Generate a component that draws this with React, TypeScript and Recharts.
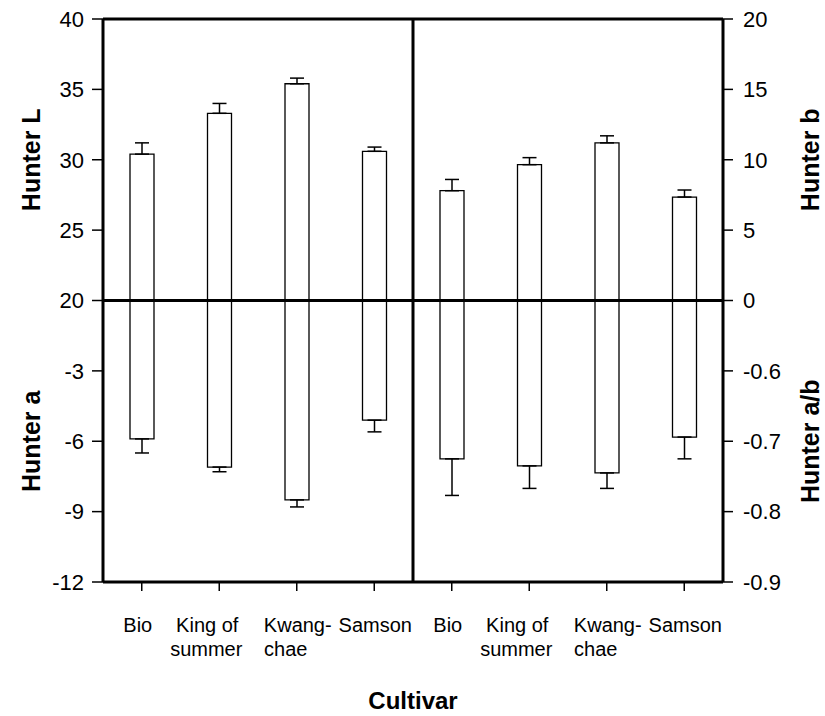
import React from 'react';
import { ComposedChart, Bar, XAxis, YAxis, ErrorBar, ReferenceLine, Label } from 'recharts';

const cultivars = ['Bio', 'King of summer', 'Kwang-chae', 'Samson'];
const cultivarLines = [['Bio'], ['King of', 'summer'], ['Kwang-', 'chae'], ['Samson']];

const hunterL = [30.4, 33.3, 35.4, 30.6];
const hunterLErr = [0.8, 0.7, 0.4, 0.3];
const hunterA = [-5.9, -7.1, -8.5, -5.1];
const hunterAErr = [0.6, 0.2, 0.3, 0.5];
const hunterB = [7.8, 9.65, 11.2, 7.35];
const hunterBErr = [0.8, 0.5, 0.5, 0.5];
const hunterAB = [-0.725, -0.735, -0.745, -0.694];
const hunterABErr = [0.052, 0.032, 0.022, 0.031];

const leftTicks = [0, 5, 10, 15, 20, 25, 30, 35, 40];
const leftTickLabels = ['-12', '-9', '-6', '-3', '20', '25', '30', '35', '40'];
const rightTicks = [-20, -15, -10, -5, 0, 5, 10, 15, 20];
const rightTickLabels = ['-0.9', '-0.8', '-0.7', '-0.6', '0', '5', '10', '15', '20'];

const rows = [
  ...cultivars.map((c, i) => ({
    cat: c, pos: i,
    L: [20, hunterL[i]], LErr: [0, hunterLErr[i]],
    a: [0, hunterA[i]], aErr: [hunterAErr[i], 0],
    b: null, bErr: null, ab: null, abErr: null,
  })),
  ...cultivars.map((c, i) => ({
    cat: c, pos: i + 4,
    L: null, LErr: null, a: null, aErr: null,
    b: [0, hunterB[i]], bErr: [0, hunterBErr[i]],
    ab: [-0.5, hunterAB[i]], abErr: [hunterABErr[i], 0],
  })),
];

const FONT = 'Arial, "Liberation Sans", Helvetica, sans-serif';
// small horizontal nudges of the category label lines, as in the original figure
const lineNudge = [[-4], [-12, -13], [1, -11], [1]];

const CatTick = (props: any) => {
  const { x, y, index } = props;
  const k = index % 4;
  const lines = cultivarLines[k];
  return (
    <g>
      {lines.map((ln, j) => (
        <text key={j} x={x + lineNudge[k][j]} y={y + 39 + j * 24} textAnchor="middle"
          fontSize={20} fontFamily={FONT} fill="#000">{ln}</text>
      ))}
    </g>
  );
};

const leftTitles = (props: any) => {
  const vb = props.viewBox;
  const cx = vb.x - 12;
  const y1 = vb.y + vb.height / 4;
  const y2 = vb.y + (vb.height * 3) / 4;
  return (
    <g>
      <text x={cx} y={y1} transform={`rotate(-90 ${cx} ${y1})`} textAnchor="middle" dominantBaseline="central"
        fontSize={25} fontWeight="bold" fontFamily={FONT} fill="#000">Hunter L</text>
      <text x={cx} y={y2} transform={`rotate(-90 ${cx} ${y2})`} textAnchor="middle" dominantBaseline="central"
        fontSize={25} fontWeight="bold" fontFamily={FONT} fill="#000">Hunter a</text>
    </g>
  );
};

const rightTitles = (props: any) => {
  const vb = props.viewBox;
  const cx = vb.x + 87;
  const y1 = vb.y + vb.height / 4;
  const y2 = vb.y + (vb.height * 3) / 4;
  return (
    <g>
      <text x={cx} y={y1} transform={`rotate(-90 ${cx} ${y1})`} textAnchor="middle" dominantBaseline="central"
        fontSize={25} fontWeight="bold" fontFamily={FONT} fill="#000">Hunter b</text>
      <text x={cx} y={y2} transform={`rotate(-90 ${cx} ${y2})`} textAnchor="middle" dominantBaseline="central"
        fontSize={25} fontWeight="bold" fontFamily={FONT} fill="#000">Hunter a/b</text>
    </g>
  );
};

const xTitle = (props: any) => {
  const vb = props.viewBox;
  return (
    <text x={vb.x + vb.width / 2} y={vb.y + 127} textAnchor="middle"
      fontSize={24} fontWeight="bold" fontFamily={FONT} fill="#000">Cultivar</text>
  );
};

const axisLine = { stroke: '#000', strokeWidth: 3 };
const tickLine = { stroke: '#000', strokeWidth: 1.5 };
const tickFont = { fontSize: 22, fill: '#000', fontFamily: FONT };

export default function App() {
  return (
    <div style={{ position: 'absolute', left: 0, top: 0 }}>
      <ComposedChart width={825} height={716} data={rows}
        margin={{ top: 19, left: 43, right: 42, bottom: 74 }}>
        <XAxis xAxisId="x1" dataKey="cat" interval={0} tick={<CatTick />} tickSize={9} tickMargin={2}
          axisLine={axisLine} tickLine={tickLine} height={60}>
          <Label content={xTitle} />
        </XAxis>
        <XAxis xAxisId="x2" dataKey="cat" hide height={0} />
        <XAxis xAxisId="x3" dataKey="cat" hide height={0} />
        <XAxis xAxisId="x4" dataKey="cat" hide height={0} />
        <XAxis xAxisId="xi" dataKey="pos" type="category" hide height={0} />

        <YAxis yAxisId="L" orientation="left" domain={[0, 40]} ticks={leftTicks} interval={0}
          tickFormatter={(v: number) => leftTickLabels[leftTicks.indexOf(v)]}
          width={60} tickSize={11} tickMargin={8} axisLine={axisLine} tickLine={tickLine} tick={tickFont}>
          <Label content={leftTitles} />
        </YAxis>
        <YAxis yAxisId="a" domain={[-12, 12]} hide width={0} />
        <YAxis yAxisId="b" orientation="right" domain={[-20, 20]} ticks={rightTicks} interval={0}
          tickFormatter={(v: number) => rightTickLabels[rightTicks.indexOf(v)]}
          width={60} tickSize={10} tickMargin={10} axisLine={axisLine} tickLine={tickLine} tick={tickFont}>
          <Label content={rightTitles} />
        </YAxis>
        <YAxis yAxisId="ab" orientation="right" domain={[-0.9, -0.1]} hide width={0} />

        <Bar xAxisId="x1" yAxisId="L" dataKey="L" barSize={24} fill="#fff" stroke="#000" strokeWidth={1.3} isAnimationActive={false}>
          <ErrorBar dataKey="LErr" width={7} stroke="#000" strokeWidth={1.5} direction="y" />
        </Bar>
        <Bar xAxisId="x2" yAxisId="a" dataKey="a" barSize={24} fill="#fff" stroke="#000" strokeWidth={1.3} isAnimationActive={false}>
          <ErrorBar dataKey="aErr" width={7} stroke="#000" strokeWidth={1.5} direction="y" />
        </Bar>
        <Bar xAxisId="x3" yAxisId="b" dataKey="b" barSize={24} fill="#fff" stroke="#000" strokeWidth={1.3} isAnimationActive={false}>
          <ErrorBar dataKey="bErr" width={7} stroke="#000" strokeWidth={1.5} direction="y" />
        </Bar>
        <Bar xAxisId="x4" yAxisId="ab" dataKey="ab" barSize={24} fill="#fff" stroke="#000" strokeWidth={1.3} isAnimationActive={false}>
          <ErrorBar dataKey="abErr" width={7} stroke="#000" strokeWidth={1.5} direction="y" />
        </Bar>

        <ReferenceLine xAxisId="x1" yAxisId="L" y={40} stroke="#000" strokeWidth={3} />
        <ReferenceLine xAxisId="x1" yAxisId="L" y={20} stroke="#000" strokeWidth={3} />
        <ReferenceLine xAxisId="xi" yAxisId="L" x={4} position="start" stroke="#000" strokeWidth={3} />
      </ComposedChart>
    </div>
  );
}
